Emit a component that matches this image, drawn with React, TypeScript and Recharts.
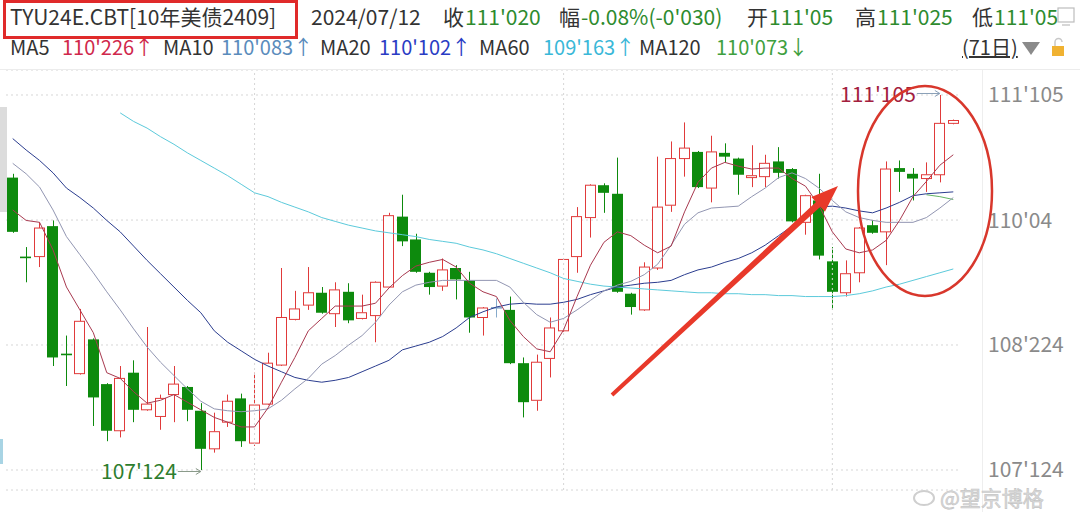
import React from 'react'
import { ComposedChart, Bar, Line, XAxis, YAxis, CartesianGrid, ReferenceLine, ReferenceDot } from 'recharts'

const FONT = '"Noto Sans CJK SC", "Noto Sans", sans-serif'
const UP = '#e03a3a'
const DOWN = '#0d8a0d'
const FLAT = '#86aacb'
const GREEN_TXT = '#2e8b2e'

// one entry per trading day (71 days)
const days = Array.from({ length: 71 }, (_, i) => i + 1)

const opens = [110.46, 109.63, 109.63, 109.95, 108.61, 108.40, 108.76, 108.29, 107.80, 108.41,
  108.02, 107.95, 108.18, 108.26, 108.01, 107.61, 107.89, 108.14, 107.67, 108.08,
  108.49, 108.97, 109.12, 109.25, 109.03, 109.26, 108.98, 109.01, 109.31, 110.05,
  109.81, 109.46, 109.32, 109.51, 109.38, 108.99, 109.10, 109.07, 108.51, 108.12,
  108.56, 108.85, 109.63, 110.04, 110.38, 110.29, 109.24, 109.07, 109.51, 110.17,
  110.66, 110.73, 110.35, 110.72, 110.66, 110.46, 110.47, 110.63, 110.55, 109.99,
  110.22, 109.58, 109.25, 109.46, 109.96, 109.89, 110.56, 110.50, 110.45, 110.49, 111.03]

const highs = [110.50, 109.73, 109.99, 110.01, 108.80, 109.08, 108.77, 108.30, 108.48, 108.54,
  108.89, 108.18, 108.48, 108.27, 108.09, 107.99, 108.18, 108.19, 108.41, 108.62,
  109.51, 109.27, 109.52, 109.31, 109.36, 109.35, 109.23, 109.37, 110.09, 110.28,
  109.87, 109.47, 109.61, 109.54, 109.47, 109.10, 109.19, 109.21, 108.57, 108.60,
  108.99, 109.61, 110.15, 110.39, 110.40, 110.67, 109.25, 109.57, 110.68, 110.84,
  111.04, 110.74, 110.90, 110.82, 110.67, 110.80, 110.70, 110.78, 110.56, 110.28,
  110.50, 109.73, 109.59, 109.94, 110.01, 110.63, 110.64, 110.56, 110.62, 111.328, 111.07]

const lows = [109.88, 109.36, 109.52, 108.48, 108.27, 108.39, 107.85, 107.69, 107.73, 107.89,
  108.01, 107.81, 107.89, 107.90, 107.3875, 107.57, 107.84, 107.63, 107.64, 108.07,
  108.48, 108.96, 109.07, 109.03, 108.89, 108.93, 108.97, 108.73, 109.30, 109.74,
  109.46, 109.23, 109.27, 109.18, 108.83, 108.80, 108.99, 108.50, 107.94, 108.01,
  108.36, 108.84, 109.46, 109.83, 110.09, 109.25, 109.02, 109.06, 109.49, 110.10,
  110.47, 110.35, 110.20, 110.62, 110.28, 110.36, 110.36, 110.45, 109.99, 109.86,
  109.60, 109.07, 109.21, 109.36, 109.87, 109.54, 110.31, 110.22, 110.31, 110.41, 111.02]

const closes = [109.89, 109.62, 109.93, 108.57, 108.60, 108.95, 108.15, 107.80, 108.35, 108.02,
  108.08, 108.14, 108.29, 108.02, 107.61, 107.79, 108.11, 107.69, 108.07, 108.51,
  108.99, 109.08, 109.25, 109.04, 109.28, 108.96, 109.04, 109.36, 110.06, 109.79,
  109.47, 109.31, 109.49, 109.39, 108.99, 109.09, 109.10, 108.51, 108.10, 108.52,
  108.88, 109.60, 110.05, 110.38, 110.30, 109.26, 109.10, 109.52, 110.15, 110.66,
  110.77, 110.36, 110.73, 110.68, 110.49, 110.48, 110.61, 110.51, 110.00, 110.27,
  109.64, 109.26, 109.45, 109.93, 109.88, 110.55, 110.52, 110.45, 110.49, 111.03, 111.06]

const ma5 = [110.12, 110.01, 109.99, 109.70, 109.31, 109.07, 108.83, 108.41, 108.35, 108.21,
  108.09, 108.12, 108.18, 108.10, 108.02, 107.94, 107.89, 107.84, 107.84, 108.04,
  108.31, 108.57, 108.85, 108.98, 109.11, 109.11, 109.11, 109.14, 109.30, 109.43,
  109.53, 109.57, 109.60, 109.52, 109.35, 109.26, 109.21, 108.96, 108.79, 108.66,
  108.63, 108.86, 109.21, 109.54, 109.78, 109.89, 109.85, 109.75, 109.67, 109.74,
  110.10, 110.41, 110.56, 110.62, 110.58, 110.55, 110.56, 110.56, 110.45, 110.37,
  110.17, 109.89, 109.71, 109.67, 109.70, 109.80, 110.01, 110.26, 110.42, 110.59, 110.70]

const ma10 = [110.61, 110.50, 110.36, 110.12, 109.84, 109.65, 109.46, 109.26, 109.07, 108.87,
  108.68, 108.52, 108.38, 108.24, 108.11, 108.03, 108.01, 108.00, 108.01, 108.03,
  108.12, 108.24, 108.35, 108.50, 108.59, 108.70, 108.80, 108.94, 109.12, 109.26,
  109.33, 109.36, 109.38, 109.38, 109.38, 109.38, 109.38, 109.31, 109.15, 109.02,
  108.94, 108.98, 109.07, 109.17, 109.27, 109.33, 109.37, 109.44, 109.55, 109.75,
  109.97, 110.09, 110.14, 110.15, 110.16, 110.26, 110.35, 110.46, 110.51, 110.45,
  110.35, 110.22, 110.10, 110.04, 110.01, 109.99, 109.99, 109.99, 110.04, 110.14, 110.25]

const ma20 = [110.87, 110.75, 110.64, 110.51, 110.35, 110.25, 110.14, 110.01, 109.89, 109.74,
  109.59, 109.45, 109.31, 109.17, 109.04, 108.85, 108.73, 108.64, 108.55, 108.48,
  108.42, 108.36, 108.33, 108.31, 108.33, 108.36, 108.42, 108.48, 108.54, 108.65,
  108.69, 108.73, 108.79, 108.88, 108.99, 109.05, 109.10, 109.13, 109.14, 109.13,
  109.13, 109.15, 109.18, 109.23, 109.27, 109.31, 109.33, 109.35, 109.36, 109.38,
  109.44, 109.49, 109.52, 109.57, 109.61, 109.67, 109.75, 109.85, 109.95, 110.06,
  110.15, 110.16, 110.14, 110.11, 110.09, 110.14, 110.20, 110.27, 110.29, 110.30, 110.31]

const ma60 = [null, null, null, null, null, null, null, null,
  111.14, 111.05, 110.98, 110.89, 110.81, 110.72, 110.64, 110.56, 110.48, 110.39,
  110.30, 110.26, 110.20, 110.15, 110.10, 110.04, 110.00, 109.96, 109.93, 109.90,
  109.88, 109.86, 109.84, 109.81, 109.79, 109.77, 109.73, 109.70, 109.66, 109.61,
  109.56, 109.51, 109.46, 109.40, 109.37, 109.34, 109.32, 109.31, 109.30, 109.29,
  109.28, 109.27, 109.26, 109.25, 109.25, 109.24, 109.24, 109.23, 109.23, 109.22,
  109.22, 109.21, 109.21, 109.21, 109.22, 109.24, 109.27, 109.31, 109.34, 109.38,
  109.42, 109.46, 109.50]

const ma120 = [...Array(68).fill(null), 110.28, 110.26, 110.23]

const yTicks = [107.3875, 108.701, 110.014, 111.328]
const yTickLabels = ["107'124", "108'224", "110'04", "111'105"]
const monthBreaks = [19, 42, 62]
const highDay = 70
const lowDay = 15

const rows = days.map((d, i) => ({
  day: d,
  range: [lows[i], highs[i]],
  open: opens[i],
  high: highs[i],
  low: lows[i],
  close: closes[i],
  ma5: ma5[i],
  ma10: ma10[i],
  ma20: ma20[i],
  ma60: ma60[i],
  ma120: ma120[i],
}))

const tickLabel = (v: number) => {
  let best = 0
  yTicks.forEach((t, i) => { if (Math.abs(t - v) < Math.abs(yTicks[best] - v)) best = i })
  return yTickLabels[best]
}

const Candle = (props: any) => {
  const { x, y, width, height, payload } = props
  if (!payload) return null
  const { open, close, high, low } = payload
  const top = Math.min(y, y + height)
  const h = Math.abs(height)
  const k = h / (high - low || 1)
  const py = (v: number) => top + (high - v) * k
  const cx = Math.round(x + width / 2) + 0.5
  const left = Math.round(x) + 0.5
  const w = Math.round(width) - 1
  const bt = py(Math.max(open, close))
  const bb = py(Math.min(open, close))
  if (close > open) {
    return (
      <g>
        <line x1={cx} x2={cx} y1={top} y2={bt} stroke={UP} strokeWidth={1} />
        <line x1={cx} x2={cx} y1={bb} y2={top + h} stroke={UP} strokeWidth={1} />
        <rect x={left} y={bt} width={w} height={Math.max(bb - bt, 1)} fill="#fff" stroke={UP} strokeWidth={1} />
      </g>
    )
  }
  const color = close < open ? DOWN : FLAT
  return (
    <g>
      <line x1={cx} x2={cx} y1={top} y2={top + h} stroke={color} strokeWidth={1} />
      <rect x={left - 0.5} y={bt} width={w + 1} height={Math.max(bb - bt, 1.6)} fill={color} />
    </g>
  )
}

const HighMark = (props: any) => {
  const { cx, cy } = props
  return (
    <g>
      <line x1={cx - 23} x2={cx} y1={cy - 1.5} y2={cy - 1.5} stroke="#8aa0b8" strokeWidth={1} />
      <polyline points={`${cx - 5},${cy - 4.5} ${cx},${cy - 1.5} ${cx - 5},${cy + 1.5}`} fill="none" stroke="#8aa0b8" strokeWidth={1} />
      <text x={cx - 24} y={cy + 1} textAnchor="end" dominantBaseline="middle" fontSize={21} fontFamily={FONT} fill="#a3203e">
        111'105
      </text>
    </g>
  )
}

const LowMark = (props: any) => {
  const { cx, cy } = props
  return (
    <g>
      <line x1={cx - 23} x2={cx} y1={cy + 1.5} y2={cy + 1.5} stroke="#8a9a8a" strokeWidth={1} />
      <polyline points={`${cx - 5},${cy - 1.5} ${cx},${cy + 1.5} ${cx - 5},${cy + 4.5}`} fill="none" stroke="#8a9a8a" strokeWidth={1} />
      <text x={cx - 24} y={cy + 3} textAnchor="end" dominantBaseline="middle" fontSize={21} fontFamily={FONT} fill="#2e7d2e">
        107'124
      </text>
    </g>
  )
}

const headerTop = [
  { x: 10, t: 'TYU24E.CBT[10年美债2409]', c: '#333' },
  { x: 311, t: '2024/07/12', c: '#333' },
  { x: 443, t: '收', c: '#333' },
  { x: 465, t: "111'020", c: GREEN_TXT },
  { x: 559, t: '幅', c: '#333' },
  { x: 581, t: "-0.08%(-0'030)", c: GREEN_TXT },
  { x: 747, t: '开', c: '#333' },
  { x: 769, t: "111'05", c: GREEN_TXT },
  { x: 855, t: '高', c: '#333' },
  { x: 877, t: "111'025", c: GREEN_TXT },
  { x: 972, t: '低', c: '#333' },
  { x: 994, t: "111'05", c: GREEN_TXT },
]

const headerMa = [
  { x: 10, t: 'MA5', c: '#333' },
  { x: 62, t: "110'226↑", c: '#d0284c' },
  { x: 163, t: 'MA10', c: '#333' },
  { x: 221, t: "110'083↑", c: '#5a8cbc' },
  { x: 320, t: 'MA20', c: '#333' },
  { x: 379, t: "110'102↑", c: '#2a3cc4' },
  { x: 479, t: 'MA60', c: '#333' },
  { x: 543, t: "109'163↑", c: '#3ab8d8' },
  { x: 639, t: 'MA120', c: '#333' },
  { x: 716, t: "110'073↓", c: '#3ea03e' },
]

const arrowPoints = () => {
  const S = [612, 395]
  const T = [838, 186]
  const dx = T[0] - S[0]
  const dy = T[1] - S[1]
  const len = Math.hypot(dx, dy)
  const u = [dx / len, dy / len]
  const n = [-u[1], u[0]]
  const headLen = 27
  const headHalf = 10
  const B = [T[0] - u[0] * headLen, T[1] - u[1] * headLen]
  const p = (base: number[], s: number) => `${base[0] + n[0] * s},${base[1] + n[1] * s}`
  return [p(S, -2), p(B, -3.2), p(B, -headHalf), `${T[0]},${T[1]}`, p(B, headHalf), p(B, 3.2), p(S, 2)].join(' ')
}

const App = () => {
  return (
    <div style={{ position: 'absolute', left: 0, top: 0, width: 1080, height: 512, background: '#fff', overflow: 'hidden', fontFamily: FONT }}>
      <ComposedChart width={1080} height={512} data={rows} margin={{ top: 70, right: 0, bottom: 22, left: 6 }}>
        <CartesianGrid vertical={false} stroke="#d6d6d6" strokeDasharray="2 3" />
        <XAxis dataKey="day" type="category" hide />
        <YAxis
          orientation="right"
          width={120}
          type="number"
          domain={[107.1773, 111.5907]}
          allowDataOverflow
          ticks={yTicks}
          tickFormatter={tickLabel}
          tickLine={false}
          axisLine={false}
          tickMargin={22}
          tick={{ fill: '#8a8a8a', fontSize: 21, fontFamily: FONT }}
        />
        {monthBreaks.map((d) => (
          <ReferenceLine key={d} x={d} stroke="#d6d6d6" strokeDasharray="2 3" />
        ))}
        <Line dataKey="ma60" stroke="#5ccadb" strokeWidth={1} dot={false} isAnimationActive={false} />
        <Line dataKey="ma120" stroke="#62b562" strokeWidth={1} dot={false} isAnimationActive={false} />
        <Line dataKey="ma20" stroke="#2b3d8f" strokeWidth={1} dot={false} isAnimationActive={false} />
        <Line dataKey="ma10" stroke="#9296b2" strokeWidth={1} dot={false} isAnimationActive={false} />
        <Line dataKey="ma5" stroke="#a8394f" strokeWidth={1} dot={false} isAnimationActive={false} />
        <Bar dataKey="range" barSize={11} shape={Candle} isAnimationActive={false} />
        <ReferenceDot x={highDay} y={highs[highDay - 1]} shape={HighMark} />
        <ReferenceDot x={lowDay} y={lows[lowDay - 1]} shape={LowMark} />
      </ComposedChart>

      <svg width={1080} height={512} style={{ position: 'absolute', left: 0, top: 0, pointerEvents: 'none' }}>
        <line x1={0} x2={1080} y1={69.5} y2={69.5} stroke="#ececec" />
        <line x1={982.5} x2={982.5} y1={70} y2={512} stroke="#eeeeee" />
        <rect x={0} y={107} width={7} height={105} fill="#dcdcdc" />
        <rect x={0} y={439} width={3} height={25} fill="#a8d4e4" />

        {headerTop.map((s) => (
          <text key={s.x} x={s.x} y={25} fontSize={21} fill={s.c} fontFamily={FONT}>{s.t}</text>
        ))}
        {headerMa.map((s) => (
          <text key={s.x} x={s.x} y={55} fontSize={20} fill={s.c} fontFamily={FONT}>{s.t}</text>
        ))}
        <text x={962} y={55} fontSize={20} fill="#333" fontFamily={FONT} textDecoration="underline">(71日)</text>
        <polygon points="1022,42 1040,42 1031,55" fill="#8a8a8a" />
        <rect x={1052} y={46} width={12} height={10} fill="#f0b232" />
        <path d="M1055,46 v-4 a3.5,3.5 0 0 1 7,0" fill="none" stroke="#c8c8c8" strokeWidth={1.5} />
        <rect x={1058} y={8} width={16} height={14} fill="#fff" stroke="#bdbdbd" strokeWidth={1.2} />
        <line x1={1062} x2={1070} y1={25} y2={25} stroke="#bdbdbd" strokeWidth={1.2} />

        <rect x={4.5} y={1.5} width={292} height={36} fill="none" stroke="#e02a2a" strokeWidth={3} />
        <ellipse cx={925} cy={191} rx={67} ry={105} fill="none" stroke="#d8372c" strokeWidth={2.5} />
        <polygon points={arrowPoints()} fill="#e8392a" />

        <ellipse cx={924} cy={498} rx={10} ry={7} fill="none" stroke="#cfcfcf" strokeWidth={2} />
        <text x={940} y={506} fontSize={21} fill="#dadada" stroke="#c4c4c4" strokeWidth={0.6} fontFamily={FONT}>@望京博格</text>
      </svg>
    </div>
  )
}

export default App
